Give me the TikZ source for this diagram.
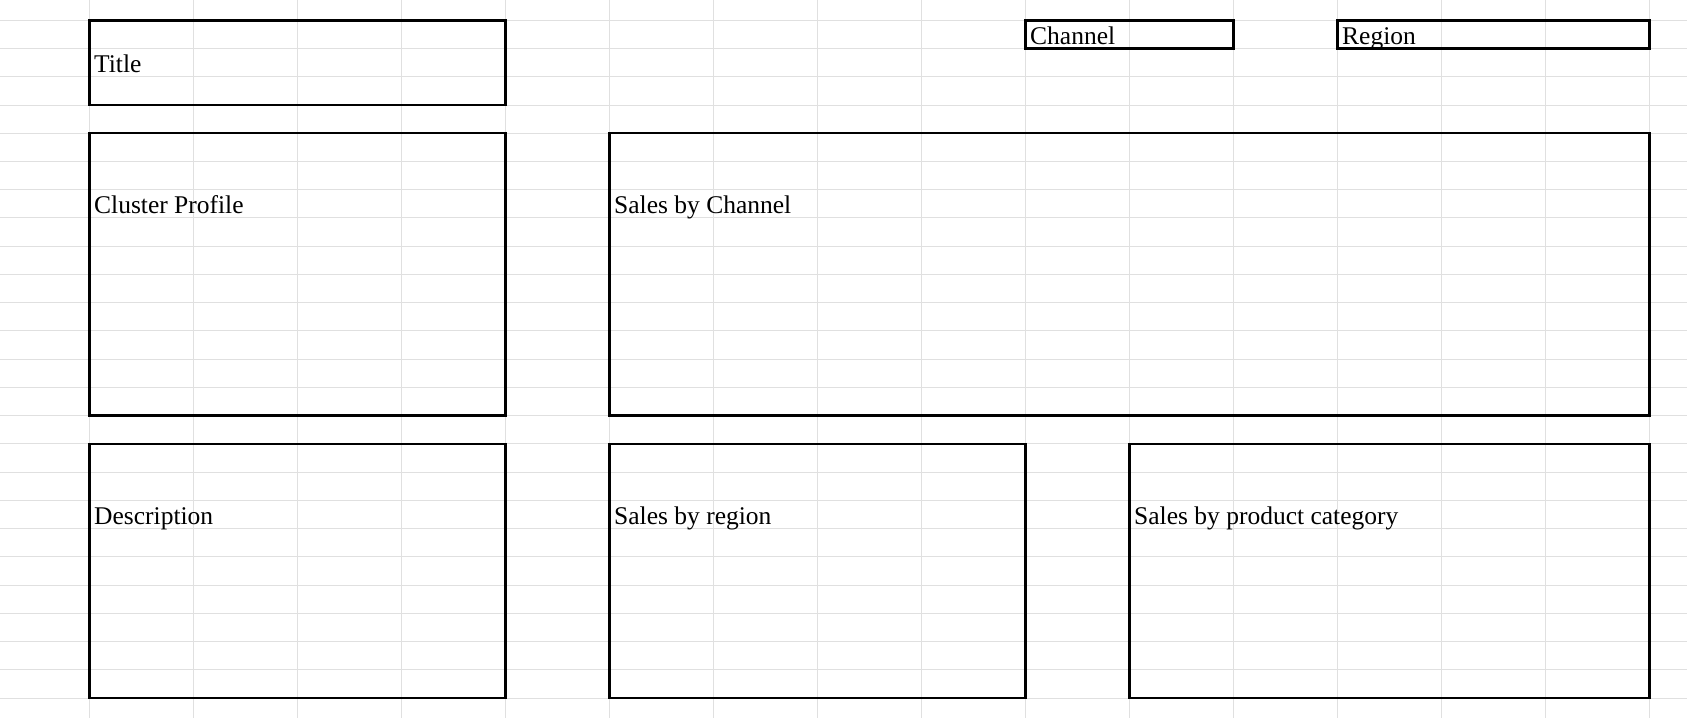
\documentclass[tikz,border=0pt]{standalone}
\usepackage{fontspec}
\setmainfont{Liberation Serif}
\definecolor{gridgray}{HTML}{E0E0E0}
\tikzset{
  gridline/.style={draw=gridgray, line width=1pt},
  boxline/.style={draw=black, line width=2.4pt},
  lbl/.style={anchor=base west, inner sep=0pt, font=\fontsize{25.5}{30}\selectfont, text=black}
}
\newcommand\cellbox[4]{\draw[boxline] ({89.3+104*#1},{20.3+28.24*#2}) rectangle ({89.3+104*#3},{20.3+28.24*#4});}
\newcommand\celltext[4]{\node[lbl] (#3) at ({94+104*#1},{20.3+28.24*(#2+1)-4.5}) {#4};}
\begin{document}
\begin{tikzpicture}[x=1pt,y=-1pt]
\useasboundingbox (0,0) rectangle (1687,718);
\fill[white] (0,0) rectangle (1687,718);
% spreadsheet grid
\foreach \k in {0,...,15} \draw[gridline] ({89.3+104*\k},0) -- ({89.3+104*\k},718);
\foreach \k in {0,...,24} \draw[gridline] (0,{20.3+28.24*\k}) -- (1687,{20.3+28.24*\k});
% boxes
\cellbox{0}{0}{4}{3}
\cellbox{9}{0}{11}{1}
\cellbox{12}{0}{15}{1}
\cellbox{0}{4}{4}{14}
\cellbox{5}{4}{15}{14}
\cellbox{0}{15}{4}{24}
\cellbox{5}{15}{9}{24}
\cellbox{10}{15}{15}{24}
% labels
\celltext{0}{1}{title}{Title}
\celltext{9}{0}{channel}{Channel}
\celltext{12}{0}{region}{Region}
\celltext{0}{6}{cluster}{Cluster Profile}
\celltext{5}{6}{saleschannel}{Sales by Channel}
\celltext{0}{17}{description}{Description}
\celltext{5}{17}{salesregion}{Sales by region}
\celltext{10}{17}{salesproduct}{Sales by product category}
\end{tikzpicture}
\end{document}
